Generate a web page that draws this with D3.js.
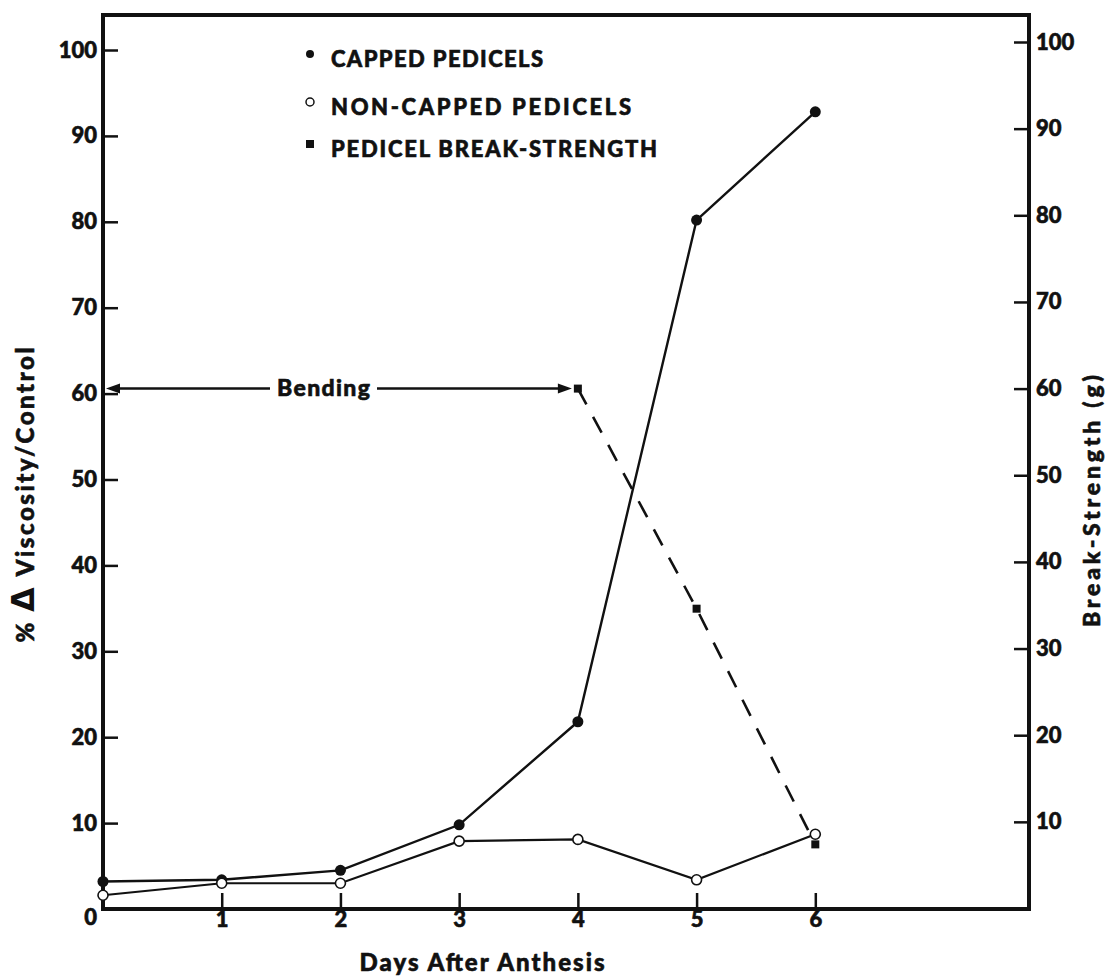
<!DOCTYPE html>
<html>
<head>
<meta charset="utf-8">
<script src="https://cdn.jsdelivr.net/npm/d3@7"></script>
<style>
  html, body { margin: 0; padding: 0; background: #fff; }
  svg { display: block; }
  text { font-family: Lato, "Open Sans", "DejaVu Sans", sans-serif; font-weight: 900; fill: #111; stroke: #111; stroke-width: 0.6px; }
</style>
</head>
<body>
<svg id="chart" width="1108" height="979"></svg>
<script>
// Days after anthesis
const days = [0, 1, 2, 3, 4, 5, 6];
// % change in viscosity relative to control
const capped = [3.2, 3.4, 4.5, 9.8, 21.8, 80.2, 92.8];
const nonCapped = [1.6, 3.0, 3.0, 7.9, 8.1, 3.4, 8.7];
// Pedicel break-strength (g), right axis
const breakDays = [4, 5, 6];
const breakStrength = [60, 34.6, 7.4];
// Bending period (days) drawn at break-strength level
const bendingSpan = [0, 4];
const bendingLevel = 60;

const xTicks = [1, 2, 3, 4, 5, 6];
const leftTicks = [0, 10, 20, 30, 40, 50, 60, 70, 80, 90, 100];
const rightTicks = [10, 20, 30, 40, 50, 60, 70, 80, 90, 100];
const legendLabels = ["CAPPED PEDICELS", "NON-CAPPED PEDICELS", "PEDICEL BREAK-STRENGTH"];

const svg = d3.select("#chart");
const ink = "#111";

const x = d3.scaleLinear().domain([0, 7.8]).range([103, 1029]);
const yL = d3.scaleLinear().domain([0, 100]).range([909, 50]);
const yR = d3.scaleLinear().domain([0, 100]).range([908.5, 42]);

const frameTop = 15;
const left = x(0), right = x.range()[1], bottom = yL(0);

// Axes (ticks point inward)
const gL = svg.append("g").attr("transform", `translate(${left},0)`)
  .call(d3.axisLeft(yL).tickValues(leftTicks).tickSizeInner(-15).tickSizeOuter(0).tickPadding(6));
const gR = svg.append("g").attr("transform", `translate(${right},0)`)
  .call(d3.axisRight(yR).tickValues(rightTicks).tickSizeInner(-15).tickSizeOuter(0).tickPadding(7));
const gB = svg.append("g").attr("transform", `translate(0,${bottom})`)
  .call(d3.axisBottom(x).tickValues(xTicks).tickSizeInner(-16).tickSizeOuter(0).tickPadding(5));

[gL, gR, gB].forEach(g => {
  g.select(".domain").remove();
  g.selectAll(".tick line").attr("stroke", ink).attr("stroke-width", 2.5);
  g.selectAll(".tick text").attr("font-size", 22).attr("font-family", null).attr("fill", ink);
});
gL.selectAll(".tick text").filter(d => d === 0).attr("dy", "0.7em");
gL.selectAll(".tick line").filter(d => d === 0).remove();
gB.selectAll(".tick text").attr("dy", "0.6em");

// Frame
svg.append("path")
  .attr("d", `M${left},${bottom} L${left},${frameTop} L${right},${frameTop} L${right},${bottom} Z`)
  .attr("fill", "none").attr("stroke", ink).attr("stroke-width", 4);

// Axis titles
svg.append("text")
  .attr("transform", "translate(34,495) rotate(-90)")
  .attr("text-anchor", "middle").attr("font-size", 24)
  .attr("textLength", 295).attr("lengthAdjust", "spacing")
  .call(t => {
    t.append("tspan").text("% ");
    t.append("tspan").attr("font-size", 32).attr("font-family", "DejaVu Sans").attr("font-weight", "bold")
      .attr("stroke-width", 0).text("Δ");
    t.append("tspan").text(" Viscosity/Control");
  });

svg.append("text")
  .attr("transform", "translate(1100,501) rotate(-90)")
  .attr("text-anchor", "middle").attr("font-size", 23)
  .attr("textLength", 252).attr("lengthAdjust", "spacing")
  .text("Break-Strength (g)");

svg.append("text")
  .attr("x", 482).attr("y", 971)
  .attr("text-anchor", "middle").attr("font-size", 24)
  .attr("textLength", 245).attr("lengthAdjust", "spacing")
  .text("Days After Anthesis");

// Bending arrow
const by = yR(bendingLevel);
const bx0 = x(bendingSpan[0]) + 3, bx1 = x(bendingSpan[1]) - 6;
const textGap = [270, 377];
svg.append("line").attr("x1", bx0 + 10).attr("x2", textGap[0]).attr("y1", by).attr("y2", by)
  .attr("stroke", ink).attr("stroke-width", 2.5);
svg.append("line").attr("x1", textGap[1]).attr("x2", bx1 - 10).attr("y1", by).attr("y2", by)
  .attr("stroke", ink).attr("stroke-width", 2.5);
svg.append("path").attr("d", `M${bx0},${by} L${bx0 + 14},${by - 5} L${bx0 + 14},${by + 5} Z`).attr("fill", ink);
svg.append("path").attr("d", `M${bx1},${by} L${bx1 - 14},${by - 5} L${bx1 - 14},${by + 5} Z`).attr("fill", ink);
svg.append("text").attr("x", (textGap[0] + textGap[1]) / 2).attr("y", by + 7)
  .attr("text-anchor", "middle").attr("font-size", 23)
  .attr("textLength", 93).attr("lengthAdjust", "spacing")
  .text("Bending");

// Series lines
const lineL = d3.line().x((d, i) => x(days[i])).y(d => yL(d));
svg.append("path").datum(capped).attr("d", lineL)
  .attr("fill", "none").attr("stroke", ink).attr("stroke-width", 2.4);
svg.append("path").datum(nonCapped).attr("d", lineL)
  .attr("fill", "none").attr("stroke", ink).attr("stroke-width", 2.2);
const lineR = d3.line().x((d, i) => x(breakDays[i])).y(d => yR(d));
svg.append("path").datum(breakStrength).attr("d", lineR)
  .attr("fill", "none").attr("stroke", ink).attr("stroke-width", 2.6)
  .attr("stroke-dasharray", "18,14");

// Markers
svg.append("g").selectAll("circle").data(capped).join("circle")
  .attr("cx", (d, i) => x(days[i])).attr("cy", d => yL(d)).attr("r", 5.5).attr("fill", ink);
svg.append("g").selectAll("circle").data(nonCapped).join("circle")
  .attr("cx", (d, i) => x(days[i])).attr("cy", d => yL(d)).attr("r", 5)
  .attr("fill", "#fff").attr("stroke", ink).attr("stroke-width", 1.6);
svg.append("g").selectAll("rect").data(breakStrength).join("rect")
  .attr("x", (d, i) => x(breakDays[i]) - 4).attr("y", d => yR(d) - 4)
  .attr("width", 8).attr("height", 8).attr("fill", ink);

// Legend
const legendX = 310, textX = 331;
const legendBase = [67, 115, 157];
const legendWidths = [212, 300, 326];
const lg = svg.append("g");
legendLabels.forEach((label, i) => {
  const my = legendBase[i] - 13;
  if (i === 0) lg.append("circle").attr("cx", legendX).attr("cy", my).attr("r", 4).attr("fill", ink);
  if (i === 1) lg.append("circle").attr("cx", legendX).attr("cy", my).attr("r", 4)
    .attr("fill", "#fff").attr("stroke", ink).attr("stroke-width", 1.5);
  if (i === 2) lg.append("rect").attr("x", legendX - 4).attr("y", my - 4).attr("width", 8).attr("height", 8).attr("fill", ink);
  lg.append("text").attr("x", textX).attr("y", legendBase[i]).attr("font-size", 22)
    .attr("textLength", legendWidths[i]).attr("lengthAdjust", "spacing")
    .text(label);
});
</script>
</body>
</html>
